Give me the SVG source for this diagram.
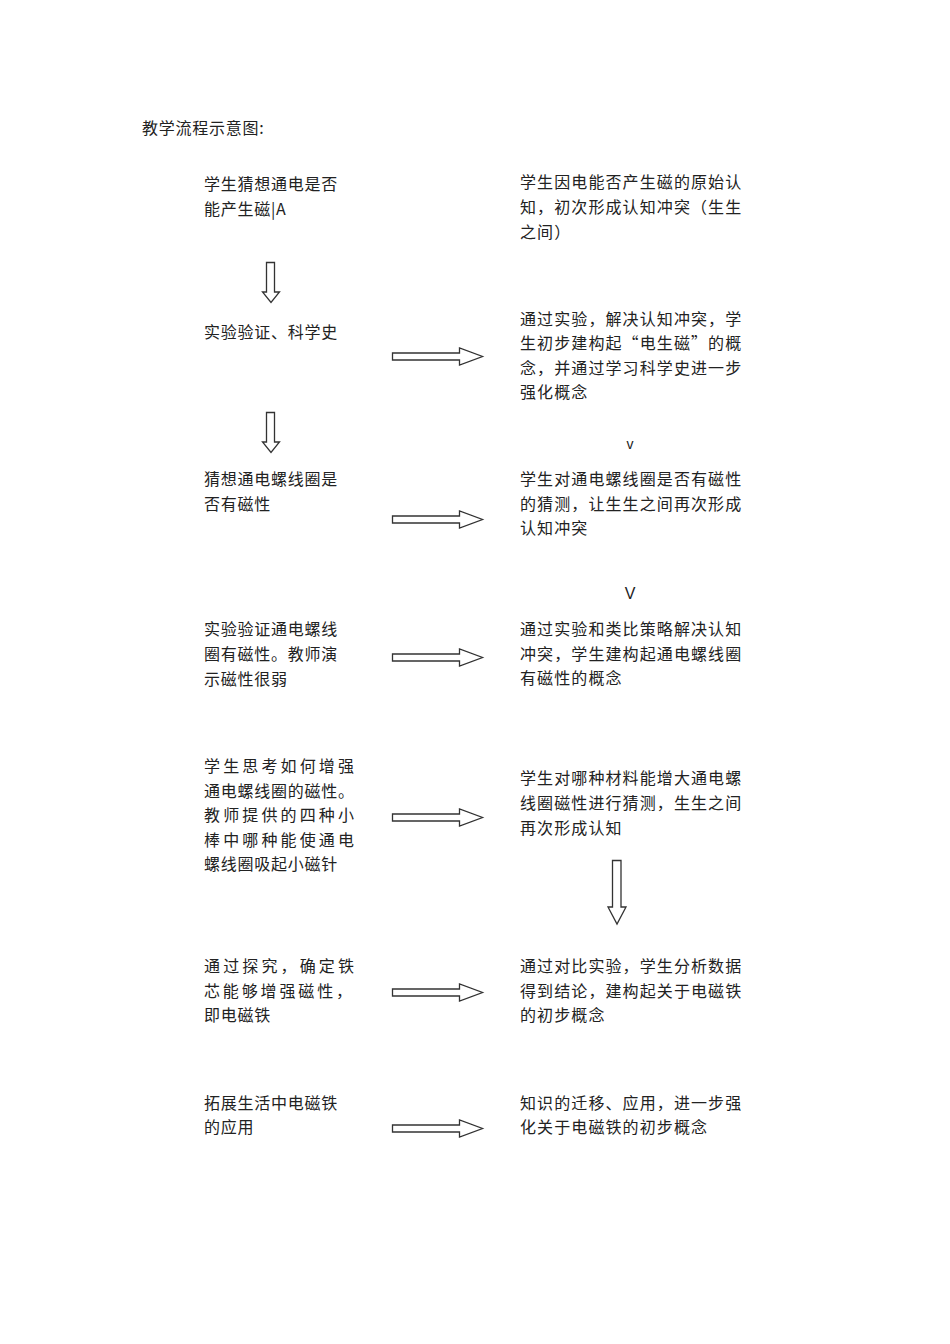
<svg xmlns="http://www.w3.org/2000/svg" width="950" height="1344" viewBox="0 0 950 1344">
<style>
text{font-family:"Noto Sans CJK SC","Noto Sans",sans-serif;font-size:16px;fill:#222;}
.l{letter-spacing:0.75px;}
.r{letter-spacing:1.1px;}
.arr{fill:#fff;stroke:#333;stroke-width:1.3;stroke-linejoin:miter;}
</style>
<defs>
<path id="ra" d="M0,-3.5 H67 V-8.5 L90,0 L67,8.5 V3.5 H0 Z"/>
</defs>
<rect width="950" height="1344" fill="#fff"/>
<text id="title" class="l" x="142" y="134">教学流程示意图:</text>

<g id="n1"><text class="l" x="204" y="190">学生猜想通电是否</text><text class="l" x="204" y="215">能产生磁|A</text></g>
<g id="n2"><text class="r" x="520" y="188">学生因电能否产生磁的原始认</text><text class="r" x="520" y="213">知，初次形成认知冲突（生生</text><text class="r" x="520" y="238">之间）</text></g>
<g id="n3"><text class="l" x="204" y="338">实验验证、科学史</text></g>
<g id="n4"><text class="r" x="520" y="325">通过实验，解决认知冲突，学</text><text class="r" x="520" y="349">生初步建构起“电生磁”的概</text><text class="r" x="520" y="374">念，并通过学习科学史进一步</text><text class="r" x="520" y="398">强化概念</text></g>
<g id="n5"><text class="l" x="204" y="485">猜想通电螺线圈是</text><text class="l" x="204" y="510">否有磁性</text></g>
<g id="n6"><text class="r" x="520" y="485">学生对通电螺线圈是否有磁性</text><text class="r" x="520" y="510">的猜测，让生生之间再次形成</text><text class="r" x="520" y="534">认知冲突</text></g>
<g id="n7"><text class="l" x="204" y="635">实验验证通电螺线</text><text class="l" x="204" y="660">圈有磁性。教师演</text><text class="l" x="204" y="685">示磁性很弱</text></g>
<g id="n8"><text class="r" x="520" y="635">通过实验和类比策略解决认知</text><text class="r" x="520" y="660">冲突，学生建构起通电螺线圈</text><text class="r" x="520" y="684">有磁性的概念</text></g>
<g id="n9"><text x="204" y="772" textLength="150" lengthAdjust="spacing">学生思考如何增强</text><text x="204" y="797" textLength="150" lengthAdjust="spacing">通电螺线圈的磁性。</text><text x="204" y="821" textLength="150" lengthAdjust="spacing">教师提供的四种小</text><text x="204" y="846" textLength="150" lengthAdjust="spacing">棒中哪种能使通电</text><text class="l" x="204" y="870">螺线圈吸起小磁针</text></g>
<g id="n10"><text class="r" x="520" y="784">学生对哪种材料能增大通电螺</text><text class="r" x="520" y="809">线圈磁性进行猜测，生生之间</text><text class="r" x="520" y="834">再次形成认知</text></g>
<g id="n11"><text x="204" y="972" textLength="150" lengthAdjust="spacing">通过探究，确定铁</text><text x="204" y="997" textLength="148" lengthAdjust="spacing">芯能够增强磁性，</text><text class="l" x="204" y="1021">即电磁铁</text></g>
<g id="n12"><text class="r" x="520" y="972">通过对比实验，学生分析数据</text><text class="r" x="520" y="997">得到结论，建构起关于电磁铁</text><text class="r" x="520" y="1021">的初步概念</text></g>
<g id="n13"><text class="l" x="204" y="1109">拓展生活中电磁铁</text><text class="l" x="204" y="1133">的应用</text></g>
<g id="n14"><text class="r" x="520" y="1109">知识的迁移、应用，进一步强</text><text class="r" x="520" y="1133">化关于电磁铁的初步概念</text></g>

<g id="connectors">
<path class="arr" d="M266.5,262.5 H274.5 V292 H279.5 L271,302.5 L262.5,292 H266.5 Z"/>
<path class="arr" d="M266.5,412.5 H274.5 V442 H279.5 L271,452.5 L262.5,442 H266.5 Z"/>
<path class="arr" d="M612.5,860.5 H621 V907 H626 L617,924 L608,907 H612.5 Z"/>
<use href="#ra" class="arr" x="392.5" y="356.5"/>
<use href="#ra" class="arr" x="392.5" y="519.5"/>
<use href="#ra" class="arr" x="392.5" y="657.5"/>
<use href="#ra" class="arr" x="392.5" y="817.5"/>
<use href="#ra" class="arr" x="392.5" y="992.5"/>
<use href="#ra" class="arr" x="392.5" y="1128.5"/>
<text x="630" y="449" text-anchor="middle" style="font-family:'Liberation Sans',sans-serif;font-size:14px">v</text>
<text x="630" y="599" text-anchor="middle" style="font-family:'Liberation Sans',sans-serif;font-size:16px">V</text>
</g>
</svg>
